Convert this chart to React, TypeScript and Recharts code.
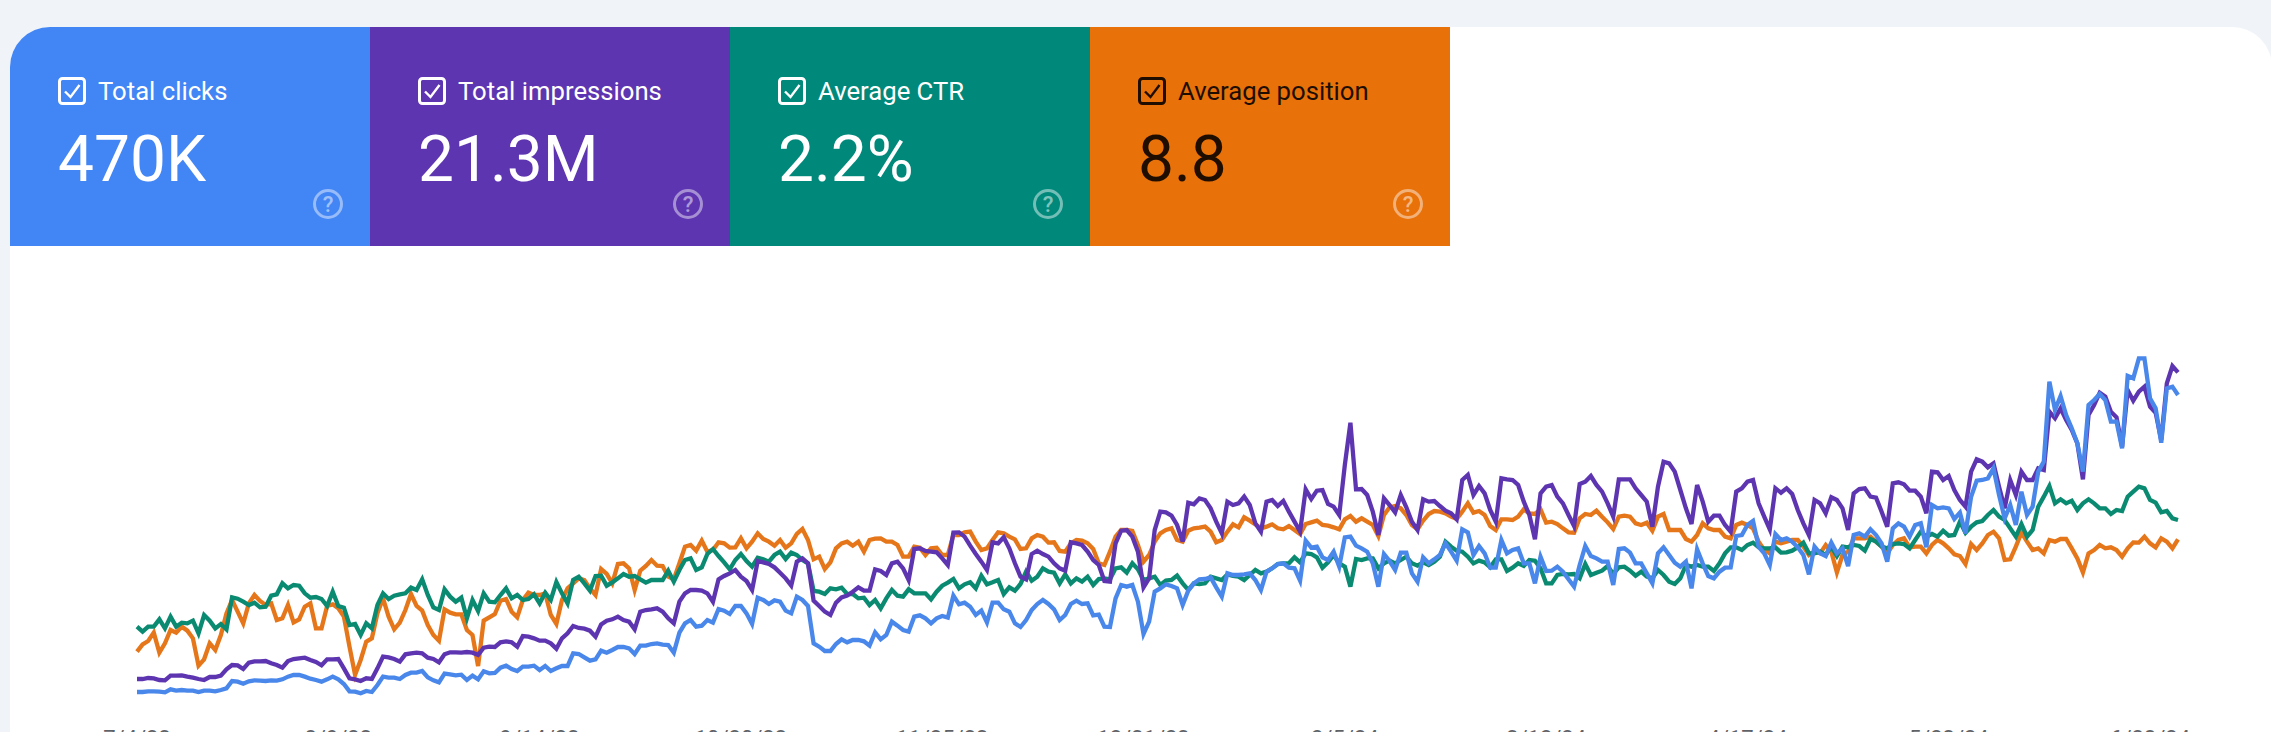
import React from "react";
import { LineChart, Line, XAxis, YAxis } from "recharts";

// daily values, in plot units (3 units = 1px of chart height)
const clicks = [
  24,24,26,26,25,23,32,28,30,28,28,24,28,28,26,30,35,57,55,49,56,59,58,57,59,58,62,70,75,75,70,64,60,55,62,70,62,48,26,25,20,27,24,45,70,67,67,63,75,82,82,87,68,59,53,79,77,74,76,60,73,62,86,80,81,97,103,93,87,100,100,103,90,102,87,95,102,102,140,138,128,118,122,148,142,150,159,159,155,138,163,
  163,168,170,166,165,142,202,230,240,220,223,240,232,273,268,258,282,282,260,228,307,300,288,299,295,268,260,310,300,282,170,160,147,147,168,182,173,180,180,176,163,203,182,195,235,223,210,205,250,254,245,230,245,252,247,313,287,292,280,255,268,233,292,292,272,265,230,219,240,270,288,300,288,272,240,255,288,298,288,290,254,256,220,219,305,345,340,345,295,198,235,325,335,
  347,342,335,285,328,350,362,363,368,338,310,380,375,375,377,380,360,330,385,395,408,410,397,395,358,478,457,460,428,420,445,400,488,490,463,455,445,410,340,438,417,390,442,442,380,355,428,410,422,435,470,445,418,512,503,435,462,440,397,397,480,440,450,455,410,410,350,430,387,388,400,385,362,340,405,462,432,425,415,415,345,453,455,442,410,410,
  380,350,440,458,435,412,400,415,335,452,410,372,365,385,397,398,492,495,525,537,460,440,405,498,480,485,475,458,435,377,460,440,432,472,440,455,402,495,500,490,512,495,470,415,515,530,520,490,525,530,458,585,575,578,575,543,562,500,610,658,660,665,695,615,545,585,525,625,555,580,685,715,955,870,912,855,815,770,685,885,900,918,900,835,835,755,972,965,1025,1025,905,875,772,935,940,915,
];
const impressions = [
  63,63,66,65,60,59,73,73,74,70,67,63,60,69,69,73,92,105,104,93,112,116,116,117,110,105,97,117,123,125,127,120,114,104,122,122,123,95,65,62,57,65,63,95,130,128,123,115,137,140,142,140,127,123,113,137,143,143,142,144,142,135,157,160,159,173,176,173,160,192,190,185,178,178,170,154,185,200,222,216,214,208,190,227,238,242,250,240,235,212,265,
  270,272,275,265,245,230,295,320,330,330,328,320,295,362,372,380,390,370,357,330,417,413,408,398,382,365,343,415,425,410,298,282,265,255,292,308,313,325,338,328,328,392,387,375,410,415,395,360,453,455,447,445,443,425,405,502,503,490,463,438,415,390,473,470,488,455,410,370,362,438,448,438,430,410,395,388,473,470,465,445,420,405,357,355,470,508,510,490,445,338,365,510,565,
  563,553,525,475,592,587,605,600,575,535,500,595,585,590,610,585,530,505,595,600,582,597,565,535,505,632,603,628,630,588,580,555,705,832,632,633,615,565,495,605,585,563,615,578,535,510,602,595,597,582,568,560,542,660,675,615,642,620,570,535,665,662,660,645,595,555,482,620,640,645,610,590,555,522,648,655,672,645,625,590,550,662,662,662,635,615,
  595,520,640,715,710,685,630,575,528,645,595,535,553,553,525,505,625,635,655,660,590,550,512,635,622,635,618,570,530,495,600,590,560,608,600,575,510,620,633,635,610,607,565,520,650,653,647,628,628,610,560,685,683,660,672,630,600,580,685,722,715,698,710,640,575,660,615,685,660,660,695,690,865,845,875,840,810,770,662,855,885,922,910,865,848,760,930,898,925,940,880,862,780,950,1002,983,
];
const ctr = [
  220,205,220,220,242,215,250,220,232,230,238,200,255,238,215,228,212,308,304,295,285,292,278,280,313,317,350,335,345,343,320,307,309,303,282,325,282,277,225,228,195,230,215,285,320,303,313,317,320,337,330,362,315,278,270,332,310,295,307,245,300,267,320,295,293,315,335,305,315,300,303,317,290,322,300,354,320,290,360,370,350,328,372,373,343,353,365,378,370,372,362,
  352,360,360,360,388,355,390,420,425,390,398,438,453,432,413,392,420,438,417,400,427,422,415,435,445,423,442,435,420,410,327,325,318,335,332,337,318,318,305,307,285,300,275,305,330,313,310,332,320,320,320,302,325,343,352,363,335,347,353,335,373,347,353,360,318,338,328,348,385,358,370,395,385,382,350,377,350,365,355,370,345,363,365,362,395,398,382,410,392,360,365,370,345,
  358,360,373,350,330,350,348,350,370,365,360,377,372,370,360,375,390,380,385,395,408,410,410,428,413,440,438,428,397,413,435,410,400,340,423,420,425,425,395,410,418,410,420,430,410,403,413,405,415,430,475,460,448,445,430,410,418,413,398,422,422,387,397,410,402,420,418,395,350,350,375,378,377,378,365,408,375,382,388,402,378,398,400,388,373,385,
  370,365,390,375,355,348,365,405,400,405,400,400,387,410,440,458,458,450,465,472,458,455,455,458,442,443,448,458,472,440,440,445,435,460,432,460,458,465,462,448,483,475,460,455,468,470,468,455,480,505,490,498,490,508,493,495,535,502,520,533,537,555,570,550,540,515,490,528,490,510,580,610,642,590,602,590,598,570,590,602,590,575,575,558,570,567,610,625,640,635,600,592,563,567,545,540,
];
const position = [
  145,167,177,202,142,170,210,202,220,208,185,103,122,170,150,195,260,300,265,230,290,315,297,285,290,240,245,285,233,242,280,290,215,215,282,287,275,250,160,75,120,175,185,260,305,250,212,232,270,318,282,268,225,195,178,272,262,257,257,210,195,102,238,248,258,298,303,265,248,300,322,315,315,320,255,228,300,335,350,365,360,335,315,393,378,350,408,410,395,330,388,
  402,420,403,402,370,362,410,460,465,448,478,445,450,473,470,457,458,485,455,475,500,483,475,463,480,457,470,498,513,480,422,430,393,413,455,470,475,463,475,445,480,484,485,475,475,465,430,430,460,457,435,455,457,435,435,495,495,503,505,475,450,455,480,503,500,490,482,453,455,485,495,490,472,473,447,445,470,480,478,470,453,410,405,445,490,510,510,507,465,415,435,475,500,
  510,515,480,475,508,515,517,520,505,473,480,505,527,518,548,538,527,515,520,527,515,512,522,510,498,528,533,538,525,523,518,512,542,552,535,545,535,525,492,555,578,582,575,555,525,512,538,558,567,565,560,550,543,565,590,562,567,555,522,510,542,542,540,550,572,560,558,572,532,535,528,515,503,502,545,558,555,568,550,533,513,550,553,550,530,525,
  532,508,550,558,510,510,510,483,475,495,530,515,510,510,490,485,525,532,525,515,475,450,440,475,470,475,480,480,460,435,445,440,465,445,383,435,445,485,485,485,490,475,460,440,465,480,485,458,460,460,440,465,480,470,455,437,432,408,468,450,470,495,505,485,420,422,460,502,475,450,455,440,480,475,483,483,455,425,383,440,450,465,455,458,450,430,455,473,472,490,470,458,485,475,455,482,
];

const tickDays = [0, 36, 72, 108, 144, 180, 216, 252, 288, 324, 360];
const tickLabels = ["7/4/23", "8/9/23", "9/14/23", "10/20/23", "11/25/23", "12/31/23", "2/5/24", "3/12/24", "4/17/24", "5/23/24", "6/28/24"];

const cardTitles = ["Total clicks", "Total impressions", "Average CTR", "Average position"];
const cardValues = ["470K", "21.3M", "2.2%", "8.8"];
const cardColors = ["#4285f4", "#5e35b1", "#00897b", "#e8710a"];
const cardInk = ["#ffffff", "#ffffff", "#ffffff", "#1f0e00"];

const rows = clicks.map((c, i) => ({
  day: i,
  clicks: c,
  impressions: impressions[i],
  ctr: ctr[i],
  position: position[i],
}));

const FONT = "Roboto, sans-serif";

function Card({ index }: { index: number }) {
  const ink = cardInk[index];
  return (
    <div
      style={{
        position: "absolute",
        left: 10 + index * 360,
        top: 27,
        width: 360,
        height: 219,
        background: cardColors[index],
        borderTopLeftRadius: index === 0 ? 40 : 0,
        color: ink,
        fontFamily: FONT,
      }}
    >
      <svg width={360} height={219} style={{ position: "absolute", left: 0, top: 0 }}>
        <rect x={49.5} y={51.5} width={25} height={25} rx={3} fill="none" stroke={ink} strokeWidth={3} />
        <path d="M55 64.5 L60.5 70 L69.5 58" fill="none" stroke={ink} strokeWidth={2.4} />
        <circle cx={318} cy={177} r={13.5} fill="none" stroke="#ffffff" strokeOpacity={0.45} strokeWidth={3} />
        <text x={318} y={185} textAnchor="middle" fontSize={22} fontWeight={500} fill="#ffffff" fillOpacity={0.5} fontFamily={FONT}>?</text>
      </svg>
      <span style={{ position: "absolute", left: 88, top: 51.5, fontSize: 25.7, lineHeight: "25.7px", whiteSpace: "nowrap" }}>
        {cardTitles[index]}
      </span>
      <span style={{ position: "absolute", left: 48, top: 101, fontSize: 64, lineHeight: "64px", whiteSpace: "nowrap" }}>
        {cardValues[index]}
      </span>
    </div>
  );
}

export default function App() {
  return (
    <div style={{ position: "fixed", left: 0, top: 0, width: 2271, height: 732, overflow: "hidden", background: "#f0f4f9" }}>
      <div style={{ position: "absolute", left: 10, top: 27, width: 2262, height: 760, background: "#ffffff", borderRadius: 40 }} />
      {cardTitles.map((_, i) => (
        <Card key={i} index={i} />
      ))}
      <div style={{ position: "absolute", left: 0, top: 0 }}>
        <LineChart width={2271} height={780} data={rows} margin={{ top: 300, right: 93, bottom: 0, left: 137 }}>
          <XAxis
            dataKey="day"
            type="number"
            domain={[0, 365]}
            ticks={tickDays}
            interval={0}
            tickFormatter={(d: number) => tickLabels[tickDays.indexOf(d)]}
            axisLine={false}
            tickLine={false}
            tickSize={0}
            tickMargin={30}
            height={80}
            tick={{ fontSize: 22, fill: "#5f6368", fontFamily: FONT }}
          />
          <YAxis hide domain={[0, 1200]} />
          <Line dataKey="position" stroke="#e6761a" strokeWidth={4.3} dot={false} isAnimationActive={false} />
          <Line dataKey="ctr" stroke="#0b8a72" strokeWidth={4.3} dot={false} isAnimationActive={false} />
          <Line dataKey="impressions" stroke="#5e35b1" strokeWidth={4.3} dot={false} isAnimationActive={false} />
          <Line dataKey="clicks" stroke="#4a87ea" strokeWidth={4.3} dot={false} isAnimationActive={false} />
        </LineChart>
      </div>
    </div>
  );
}
